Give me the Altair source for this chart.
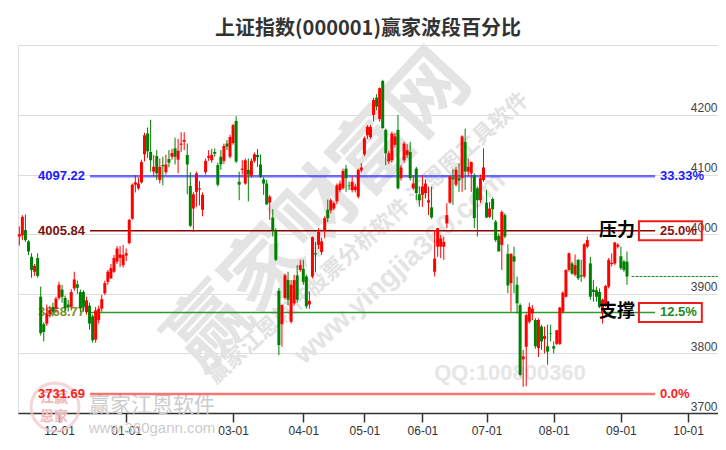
import altair as alt
import pandas as pd

# ---------------- data ----------------
opens = [3996, 3998, 4007, 3988, 3962, 3937, 3960, 3895, 3849, 3850,
         3866, 3878, 3875, 3893, 3907, 3893, 3882, 3878, 3909, 3916,
         3903, 3903, 3869, 3880, 3862, 3823, 3856, 3875, 3901, 3920,
         3926, 3937, 3954, 3960, 3948, 3964, 3985, 4026, 4083, 4077,
         4087, 4134, 4169, 4138, 4105, 4131, 4091, 4116, 4104, 4126,
         4130, 4144, 4125, 4150, 4155, 4133, 4081, 4043, 4071, 4075,
         4041, 4104, 4128, 4124, 4138, 4116, 4130, 4123, 4152, 4130,
         4153, 4190, 4088, 4108, 4085, 4108, 4098, 4123, 4133, 4117,
         4092, 4085, 4053, 4028, 4005, 3905, 3849, 3893, 3923, 3853,
         3884, 3931, 3940, 3942, 3929, 3882, 3929, 3968, 3982, 3970,
         4007, 4041, 4040, 4043, 4055, 4074, 4077, 4110, 4082, 4074,
         4074, 4063, 4107, 4134, 4166, 4163, 4200, 4229, 4193, 4257,
         4175, 4122, 4124, 4150, 4175, 4094, 4124, 4133, 4138, 4077,
         4110, 4067, 4066, 4069, 4053, 4045, 3937, 3979, 3979, 3979,
         4018, 4053, 4095, 4083, 4094, 4094, 4155, 4105, 4102, 4099,
         4077, 4057, 4091, 4053, 4029, 4059, 4021, 3997, 3982, 4032,
         3967, 3918, 3963, 3915, 3881, 3790, 3811, 3853, 3867, 3856,
         3809, 3845, 3824, 3812, 3834, 3812, 3816, 3816, 3870, 3895,
         3940, 3951, 3932, 3957, 3931, 3929, 3979, 3951, 3907, 3906,
         3903, 3867, 3881, 3912, 3950, 3951, 3979, 3963, 3954, 3954]
highs = [4013, 4032, 4033, 3990, 3968, 3950, 3968, 3912, 3852, 3882,
         3880, 3885, 3895, 3920, 3915, 3897, 3890, 3908, 3937, 3922,
         3907, 3906, 3895, 3885, 3865, 3878, 3880, 3898, 3922, 3940,
         3950, 3965, 3980, 3980, 3982, 3976, 4026, 4085, 4099, 4095,
         4125, 4170, 4179, 4192, 4133, 4141, 4127, 4130, 4133, 4141,
         4143, 4162, 4160, 4171, 4171, 4152, 4104, 4071, 4105, 4089,
         4070, 4127, 4141, 4143, 4144, 4120, 4141, 4152, 4158, 4167,
         4185, 4198, 4105, 4124, 4127, 4127, 4127, 4137, 4143, 4134,
         4096, 4091, 4066, 4042, 4010, 3910, 3882, 3934, 3937, 3923,
         3932, 3948, 3957, 3957, 3932, 3904, 3996, 3987, 4010, 3994,
         4030, 4058, 4060, 4056, 4085, 4090, 4110, 4116, 4088, 4097,
         4085, 4110, 4119, 4164, 4183, 4183, 4229, 4235, 4246, 4259,
         4177, 4140, 4172, 4170, 4200, 4116, 4155, 4151, 4155, 4099,
         4113, 4080, 4099, 4092, 4080, 4080, 4007, 4011, 3999, 3996,
         4052, 4098, 4110, 4113, 4119, 4166, 4177, 4127, 4122, 4102,
         4080, 4100, 4144, 4074, 4054, 4062, 4024, 4001, 4040, 4035,
         3983, 3968, 3979, 3929, 3884, 3806, 3867, 3885, 3881, 3859,
         3859, 3848, 3845, 3848, 3848, 3820, 3839, 3878, 3904, 3941,
         3969, 3954, 3966, 3958, 3957, 3985, 3996, 3962, 3923, 3912,
         3909, 3892, 3915, 3960, 3968, 3987, 3985, 3979, 3957, 3971]
lows = [3981, 3990, 3987, 3965, 3927, 3930, 3927, 3830, 3820, 3846,
        3860, 3862, 3868, 3890, 3885, 3870, 3870, 3872, 3905, 3900,
        3869, 3870, 3865, 3840, 3818, 3818, 3850, 3870, 3898, 3915,
        3925, 3935, 3950, 3945, 3944, 3955, 3983, 4024, 4070, 4074,
        4085, 4122, 4128, 4105, 4097, 4091, 4085, 4082, 4100, 4112,
        4125, 4117, 4102, 4138, 4141, 4067, 4012, 4004, 4046, 4048,
        4030, 4100, 4123, 4120, 4130, 4080, 4108, 4118, 4141, 4127,
        4150, 4119, 4057, 4100, 4083, 4055, 4095, 4120, 4113, 4094,
        4066, 4049, 4024, 3996, 3955, 3797, 3811, 3890, 3881, 3850,
        3880, 3885, 3937, 3915, 3875, 3875, 3926, 3937, 3975, 3965,
        3993, 4020, 4035, 4040, 4050, 4070, 4075, 4071, 4074, 4070,
        4070, 4060, 4104, 4131, 4160, 4160, 4189, 4208, 4189, 4177,
        4116, 4118, 4120, 4145, 4075, 4090, 4120, 4128, 4090, 4074,
        4057, 4046, 4046, 4060, 4032, 4026, 3929, 3962, 3960, 3957,
        4010, 4051, 4049, 4080, 4071, 4071, 4074, 4097, 4071, 4010,
        3996, 4052, 4088, 4027, 4027, 4024, 3987, 3971, 3940, 3993,
        3901, 3870, 3901, 3867, 3761, 3744, 3745, 3850, 3856, 3808,
        3794, 3806, 3800, 3781, 3820, 3800, 3814, 3814, 3867, 3894,
        3937, 3932, 3929, 3923, 3920, 3926, 3976, 3890, 3887, 3887,
        3876, 3850, 3878, 3909, 3946, 3948, 3976, 3940, 3937, 3915]
closes = [4000, 4029, 3990, 3971, 3940, 3947, 3930, 3834, 3836, 3867,
          3873, 3870, 3892, 3915, 3895, 3876, 3877, 3903, 3924, 3910,
          3876, 3878, 3889, 3850, 3822, 3872, 3875, 3891, 3918, 3937,
          3943, 3960, 3976, 3966, 3965, 3968, 4024, 4083, 4087, 4085,
          4121, 4166, 4139, 4124, 4113, 4102, 4113, 4114, 4117, 4120,
          4136, 4130, 4140, 4152, 4158, 4117, 4014, 4067, 4102, 4077,
          4066, 4123, 4131, 4133, 4135, 4083, 4117, 4148, 4147, 4163,
          4183, 4122, 4083, 4110, 4124, 4100, 4123, 4134, 4129, 4096,
          4085, 4050, 4063, 4007, 3957, 3814, 3881, 3931, 3890, 3915,
          3923, 3890, 3948, 3920, 3879, 3888, 3995, 3966, 4004, 3988,
          4027, 4027, 4057, 4052, 4082, 4085, 4106, 4094, 4081, 4088,
          4080, 4108, 4112, 4161, 4180, 4180, 4225, 4214, 4245, 4178,
          4136, 4136, 4169, 4164, 4077, 4112, 4152, 4141, 4094, 4085,
          4069, 4057, 4080, 4085, 4057, 4028, 3959, 4010, 3993, 3987,
          4032, 4097, 4092, 4108, 4090, 4164, 4105, 4113, 4121, 4027,
          4057, 4094, 4112, 4028, 4043, 4042, 3990, 3971, 4037, 3996,
          3914, 3967, 3954, 3884, 3764, 3795, 3864, 3878, 3875, 3812,
          3856, 3820, 3829, 3803, 3833, 3808, 3839, 3877, 3902, 3940,
          3968, 3934, 3948, 3926, 3929, 3983, 3990, 3895, 3903, 3895,
          3878, 3890, 3913, 3957, 3952, 3986, 3982, 3943, 3940, 3929]

tick_idx = [13, 35, 70, 93, 113, 132, 153, 175, 197, 219]
tick_labels = ["12-01", "01-01", "03-01", "04-01", "05-01",
               "06-01", "07-01", "08-01", "09-01", "10-01"]
y_ticks = [3700, 3800, 3900, 4000, 4100, 4200]

level_prices = [4097.22, 4005.84, 3868.77, 3731.69]
level_pcts = ["33.33%", "25.0%", "12.5%", "0.0%"]
boxed_levels = [4005.84, 3868.77]
level_tags = ["压力", "支撑"]
last_price = 3929.0

# ---------------- styling / layout ----------------
X_DOMAIN = [-0.43, 228.8]
Y_DOMAIN = [3700, 4317.4]
line_colors = ["#0000ff", "#8b0000", "#2c9a2c", "#ff0000"]
line_opac = [0.55, 1.0, 1.0, 0.55]
line_widths = [2.5, 1.5, 1.5, 2.5]
left_colors = ["#1a1aff", "#7a1010", "#7f8f26", "#ff2020"]
right_colors = ["#1a1aff", "#8b1010", "#228b22", "#ff2020"]

candles = pd.DataFrame({"idx": list(range(len(closes))), "open": opens,
                        "high": highs, "low": lows, "close": closes})
levels = pd.DataFrame({
    "price": level_prices, "pct": level_pcts,
    "label": [f"{p:.2f}" for p in level_prices],
    "lc": line_colors, "lo": line_opac, "lw": line_widths,
    "tl": left_colors, "tr": right_colors,
    "x0": 23.15, "x1": 208.2, "xl": 21.5, "xr": 209.8,
})
boxes = pd.DataFrame({"price": boxed_levels, "tag": level_tags,
                      "lo_": [p - 15.9 for p in boxed_levels],
                      "hi_": [p + 15.9 for p in boxed_levels],
                      "bx0": 202.9, "bx1": 223.5, "tx": 195.7})
dash = pd.DataFrame({"price": [last_price], "s": [200.5], "e": [X_DOMAIN[1]]})

expr = "''"
for i, l in reversed(list(zip(tick_idx, tick_labels))):
    expr = f"datum.value == {i} ? '{l}' : ({expr})"

xs = alt.Scale(domain=X_DOMAIN, nice=False, zero=False, padding=0)
ys = alt.Scale(domain=Y_DOMAIN, nice=False, zero=False, padding=0)
x_axis = alt.Axis(values=tick_idx, labelExpr=expr, title=None, grid=False,
                  domainColor="#333333", domainWidth=1.5, tickColor="#333333",
                  tickWidth=1.5, tickSize=9, labelColor="#333333",
                  labelFontSize=12, labelPadding=3, labelFont="Liberation Sans")
y_axis = alt.Axis(orient="right", values=y_ticks, format="d", title=None, grid=True,
                  gridColor="#dddddd", gridWidth=1, domain=False, ticks=False,
                  labelAlign="right", labelBaseline="bottom", labelPadding=-1,
                  labelColor="#444444", labelFontSize=12,
                  labelFont="Liberation Sans")

def X(f):
    return alt.X(f, scale=xs, axis=x_axis)

def Y(f):
    return alt.Y(f, scale=ys, axis=y_axis)

CJK = "Noto Sans CJK SC"

def wm(text, x, y, size, color, angle=0, weight="bold", font=CJK, opacity=1.0):
    return alt.Chart(pd.DataFrame({"t": [text]})).mark_text(
        fontSize=size, font=font, fontWeight=weight, color=color,
        angle=angle, opacity=opacity, align="center", baseline="middle"
    ).encode(text="t:N", x=alt.value(x), y=alt.value(y))

watermarks = [
    wm("赢家财富网", 302, 167, 80, "#e4e4e4", angle=313),
    wm("赢家江恩软件股票分析软件 江恩图工具软件", 350, 193, 22, "#e2e2e2", angle=318),
    wm("www.yingjia360.com", 382, 223, 28, "#e4e4e4", angle=318, font="Liberation Sans"),
    wm("QQ:100800360", 492, 328, 22, "#e6e6e6", font="Liberation Sans"),
    wm("赢家江恩软件", 134, 361, 21, "#cccccc", weight="normal"),
    wm("www.360gann.com", 134, 383, 15, "#cccccc", weight="normal", font="Liberation Sans"),
    wm("江赢", 36, 353, 14, "#f0b8b8"),
    wm("恩家", 36, 372, 14, "#f0b8b8"),
]
logo = alt.Chart(pd.DataFrame({"t": [1]})).mark_point(
    shape="circle", size=2300, filled=False, stroke="#f2c4c4", strokeWidth=3
).encode(x=alt.value(37), y=alt.value(362))

lev_lines = alt.Chart(levels).mark_rule().encode(
    x=X("x0:Q"), x2="x1:Q", y=Y("price:Q"),
    color=alt.Color("lc:N", scale=None),
    opacity=alt.Opacity("lo:Q", scale=None),
    strokeWidth=alt.StrokeWidth("lw:Q", scale=None))

left_lbl = alt.Chart(levels).mark_text(
    align="right", baseline="middle", fontSize=13, fontWeight="bold",
    font="Liberation Sans").encode(
    x=X("xl:Q"), y=Y("price:Q"), text="label:N",
    color=alt.Color("tl:N", scale=None))

cond = alt.condition("datum.close >= datum.open", alt.value("#ff0000"), alt.value("#008000"))
wicks = alt.Chart(candles).mark_rule(strokeWidth=1).encode(
    x=X("idx:Q"), y=Y("low:Q"), y2="high:Q", color=cond)
bodies = alt.Chart(candles).mark_bar(width=3).encode(
    x=X("idx:Q"), y=Y("open:Q"), y2="close:Q", color=cond)

dash_line = alt.Chart(dash).mark_rule(strokeDash=[3, 1], strokeWidth=1, color="#2a8a2a").encode(
    x=X("s:Q"), x2="e:Q", y=Y("price:Q"))

right_lbl = alt.Chart(levels).mark_text(
    align="left", baseline="middle", fontSize=13, fontWeight="bold",
    font="Liberation Sans").encode(
    x=X("xr:Q"), y=Y("price:Q"), text="pct:N",
    color=alt.Color("tr:N", scale=None))

box_rect = alt.Chart(boxes).mark_rect(fillOpacity=0, stroke="#ee1c1c", strokeWidth=2).encode(
    x=X("bx0:Q"), x2="bx1:Q", y=Y("lo_:Q"), y2="hi_:Q")

tags = alt.Chart(boxes).mark_text(
    align="center", baseline="middle", fontSize=18, fontWeight="bold",
    font=CJK, color="#000000").encode(
    x=X("tx:Q"), y=Y("price:Q"), text="tag:N")

chart = alt.layer(
    *watermarks, logo, lev_lines, left_lbl, wicks, bodies, dash_line,
    right_lbl, box_rect, tags
).properties(
    width=700, height=368,
    padding={"left": 10, "top": 37, "right": 0, "bottom": 29},
    autosize=alt.AutoSizeParams(type="none"),
    title=alt.TitleParams("上证指数(000001)赢家波段百分比", fontSize=20, font=CJK,
                          fontWeight="bold", color="#333333", anchor="middle",
                          offset=0, dy=1, frame="group"),
).configure_view(stroke=None).configure(background="white")

chart.save("out.html", embed_options={"renderer": "svg", "actions": False})
